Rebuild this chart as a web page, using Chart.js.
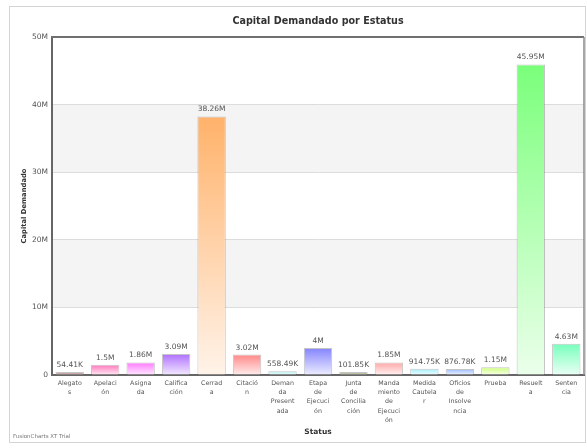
<!DOCTYPE html>
<html><head><meta charset="utf-8">
<script src="https://cdn.jsdelivr.net/npm/chart.js@4.4.0/dist/chart.umd.min.js"></script>
<style>html,body{margin:0;padding:0;background:#fff}</style>
</head><body>
<canvas id="c" width="587" height="448"></canvas>
<script>
const categories = [
  ["Alegato","s"],["Apelaci","ón"],["Asigna","da"],["Califica","ción"],["Cerrad","a"],
  ["Citació","n"],["Deman","da","Present","ada"],["Etapa","de","Ejecuci","ón"],
  ["Junta","de","Concilia","ción"],["Manda","miento","de","Ejecuci","ón"],
  ["Medida","Cautela","r"],["Oficios","de","Insolve","ncia"],["Prueba"],["Resuelt","a"],["Senten","cia"]
];
const values = [54410, 1500000, 1860000, 3090000, 38260000, 3020000, 558490, 4000000, 101850, 1850000, 914750, 876780, 1150000, 45950000, 4630000];
const yTickValues = [0, 10000000, 20000000, 30000000, 40000000, 50000000];
const yTickLabels = ["0", "10M", "20M", "30M", "40M", "50M"];
const topColors = ["#a06868","#ff77bb","#ff77ff","#b070ff","#ffb26a","#ff8888","#a8f0f0","#8484ff","#8c8c62","#ffa8a8","#a0f0ff","#99bbff","#ccff77","#7aff7a","#77ffbb"];

function hexToRgb(h){const n=parseInt(h.slice(1),16);return [(n>>16)&255,(n>>8)&255,n&255];}
function lighten(h,f){const [r,g,b]=hexToRgb(h);return `rgb(${Math.round(r+(255-r)*f)},${Math.round(g+(255-g)*f)},${Math.round(b+(255-b)*f)})`;}
function fmt(v){
  if (v >= 1e6) return (+(v/1e6).toFixed(2)) + "M";
  return (+(v/1e3).toFixed(2)) + "K";
}

const FONT = "'DejaVu Sans', Verdana, sans-serif";

const decor = {
  id: 'decor',
  beforeDraw(chart) {
    const {ctx, chartArea: a, scales: {y}} = chart;
    ctx.save();
    ctx.fillStyle = '#ffffff';
    ctx.fillRect(0, 0, chart.width, chart.height);
    ctx.strokeStyle = '#d4d4d4';
    ctx.lineWidth = 1;
    ctx.strokeRect(9.5, 6.5, 576, 436);
    ctx.fillStyle = '#f4f4f4';
    for (let i = 1; i < yTickValues.length - 1; i += 2) {
      const t = y.getPixelForValue(yTickValues[i+1]);
      const b = y.getPixelForValue(yTickValues[i]);
      ctx.fillRect(a.left, t, a.right - a.left, b - t);
    }
    ctx.restore();
  },
  afterDatasetsDraw(chart) {
    const {ctx} = chart;
    const meta = chart.getDatasetMeta(0);
    ctx.save();
    ctx.font = "7.5px " + FONT;
    ctx.fillStyle = '#555';
    ctx.textAlign = 'center';
    ctx.textBaseline = 'alphabetic';
    meta.data.forEach((el, i) => {
      ctx.fillText(fmt(values[i]), el.x, el.y - 5);
    });
    ctx.restore();
  },
  afterDraw(chart) {
    const {ctx, chartArea: a} = chart;
    ctx.save();
    ctx.strokeStyle = '#707070';
    ctx.lineWidth = 2;
    ctx.beginPath();
    ctx.moveTo(a.left - 1, a.top);
    ctx.lineTo(a.right, a.top);
    ctx.stroke();
    ctx.strokeStyle = '#8a8a8a';
    ctx.lineWidth = 1.5;
    ctx.beginPath();
    ctx.moveTo(a.right, a.top);
    ctx.lineTo(a.right, a.bottom);
    ctx.stroke();
    ctx.font = "5.5px " + FONT;
    ctx.fillStyle = '#777';
    ctx.textAlign = 'left';
    ctx.textBaseline = 'middle';
    ctx.fillText("FusionCharts XT Trial", 13, 437);
    ctx.restore();
  }
};

new Chart(document.getElementById('c'), {
  type: 'bar',
  data: {
    labels: categories,
    datasets: [{
      data: values,
      backgroundColor: (c) => {
        const i = c.dataIndex;
        const ys = c.chart.scales.y;
        if (c.type !== 'data' || !ys) return topColors[i] || '#ccc';
        const t = Math.min(ys.getPixelForValue(c.raw), ys.getPixelForValue(0) - 3), b = ys.getPixelForValue(0);
        if (!isFinite(t) || !isFinite(b) || b - t < 1) return topColors[i];
        const g = c.chart.ctx.createLinearGradient(0, t, 0, b);
        g.addColorStop(0, topColors[i]);
        g.addColorStop(1, lighten(topColors[i], 0.85));
        return g;
      },
      borderColor: 'rgba(110,110,110,0.4)',
      borderWidth: 1,
      minBarLength: 3,
      barPercentage: 0.8,
      categoryPercentage: 1.0
    }]
  },
  options: {
    responsive: false,
    animation: false,
    devicePixelRatio: 1,
    layout: { padding: { left: 12, right: 3, top: 0, bottom: 6 } },
    plugins: {
      legend: { display: false },
      tooltip: { enabled: false },
      title: {
        display: true,
        fullSize: false,
        text: 'Capital Demandado por Estatus',
        color: '#333',
        font: { family: FONT, size: 9.6, weight: 'bold' },
        padding: { top: 16, bottom: 9.5 }
      }
    },
    scales: {
      x: {
        afterFit(s) { s.height = 67; },
        grid: { display: false, drawTicks: false },
        border: { color: '#666', width: 2 },
        ticks: {
          autoSkip: false, maxRotation: 0, minRotation: 0, padding: 4,
          color: '#555',
          font: { family: FONT, size: 6.3, lineHeight: 1.45 }
        },
        title: {
          display: true, text: 'Status', color: '#333',
          font: { family: FONT, size: 7.5, weight: 'bold' },
          padding: { top: 0, bottom: 5.5 }
        }
      },
      y: {
        min: 0, max: 50000000,
        afterFit(s) { s.width = 40; },
        afterBuildTicks(s) { s.ticks = yTickValues.map(v => ({ value: v })); },
        grid: { color: '#dcdcdc', lineWidth: 1, drawTicks: false },
        border: { color: '#666', width: 2 },
        ticks: {
          padding: 4, color: '#555',
          font: { family: FONT, size: 7.5 },
          callback: (v, i) => yTickLabels[i]
        },
        title: {
          display: true, text: 'Capital Demandado', color: '#333',
          font: { family: FONT, size: 6.8, weight: 'bold' },
          padding: { top: 8, bottom: 0 }
        }
      }
    }
  },
  plugins: [decor]
});
</script>
</body></html>
